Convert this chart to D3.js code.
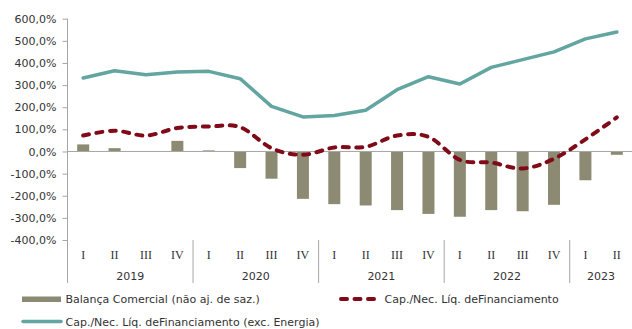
<!DOCTYPE html>
<html>
<head>
<meta charset="utf-8">
<script src="https://cdn.jsdelivr.net/npm/d3@7"></script>
<style>
  html, body { margin: 0; padding: 0; background: #fff; }
  svg { display: block; }
</style>
</head>
<body>
<svg id="chart" width="632" height="329"></svg>
<script>
// Quarterly categories, grouped by year
const quarters = ["I","II","III","IV","I","II","III","IV","I","II","III","IV","I","II","III","IV","I","II"];
const years = ["2019","2019","2019","2019","2020","2020","2020","2020","2021","2021","2021","2021","2022","2022","2022","2022","2023","2023"];
const yearLabels = ["2019","2020","2021","2022","2023"];

// Series (% values)
const balancaComercial = [32, 15, 0, 48, 5, -75, -123, -214, -238, -244, -265, -282, -295, -265, -270, -241, -130, -15];
const capNecFinanciamento = [72, 94, 72, 106, 113, 110, 15, -15, 18, 21, 72, 66, -38, -50, -77, -33, 55, 154];
const capNecExcEnergia = [332, 365, 347, 359, 362, 329, 204, 156, 163, 186, 279, 338, 305, 380, 415, 450, 509, 540];

const yTicks = [-400, -300, -200, -100, 0, 100, 200, 300, 400, 500, 600];

const seriesNames = [
  "Balança Comercial (não aj. de saz.)",
  "Cap./Nec. Líq. deFinanciamento",
  "Cap./Nec. Líq. deFinanciamento (exc. Energia)"
];

const colors = { bar: "#8c8a72", red: "#800a18", teal: "#62a5a1", axis: "#a6a6a6", text: "#333333" };

const svg = d3.select("#chart");
const plotLeft = 67.5, plotRight = 632.5, plotTop = 18.7, plotBottom = 240;

const idx = d3.range(quarters.length);
const x = d3.scaleBand().domain(idx).range([plotLeft, plotRight]).paddingInner(0).paddingOuter(0);
const y = d3.scaleLinear().domain([-400, 600]).range([plotBottom, plotTop]);
const cx = i => x(i) + x.bandwidth() / 2;

// Portuguese-style percentage: comma decimal, plain hyphen for negatives
const fmt = v => (v < 0 ? "-" : "") + d3.format(".1f")(Math.abs(v)).replace(".", ",") + "%";

// Value axis
const yAxis = d3.axisLeft(y).tickValues(yTicks).tickSize(5).tickPadding(6).tickFormat(fmt);
const gy = svg.append("g").attr("transform", `translate(${plotLeft},0)`).call(yAxis);
gy.select(".domain").remove();
gy.selectAll(".tick line").attr("stroke", colors.axis);
gy.selectAll(".tick text")
  .attr("fill", colors.text)
  .style("font-family", "'DejaVu Sans', Verdana, sans-serif")
  .style("font-size", "11px");

// Left axis line running through the category area
svg.append("line")
  .attr("x1", plotLeft).attr("x2", plotLeft)
  .attr("y1", plotTop).attr("y2", 283)
  .attr("stroke", colors.axis).attr("stroke-width", 1);

// Bars
svg.append("g").selectAll("rect").data(balancaComercial).join("rect")
  .attr("x", (d, i) => cx(i) - 6)
  .attr("width", 12)
  .attr("y", d => y(Math.max(0, d)))
  .attr("height", d => Math.abs(y(d) - y(0)))
  .attr("fill", colors.bar);

// Zero line
svg.append("line")
  .attr("x1", plotLeft).attr("x2", plotRight)
  .attr("y1", y(0)).attr("y2", y(0))
  .attr("stroke", colors.axis).attr("stroke-width", 1);

// Lines
const lineStraight = d3.line().x((d, i) => cx(i)).y(d => y(d));
const lineSmooth = d3.line().x((d, i) => cx(i)).y(d => y(d)).curve(d3.curveCatmullRom.alpha(0));

svg.append("path").datum(capNecExcEnergia)
  .attr("d", lineStraight)
  .attr("fill", "none").attr("stroke", colors.teal)
  .attr("stroke-width", 3.5).attr("stroke-linejoin", "round").attr("stroke-linecap", "round");

svg.append("path").datum(capNecFinanciamento)
  .attr("d", lineSmooth)
  .attr("fill", "none").attr("stroke", colors.red)
  .attr("stroke-width", 4).attr("stroke-dasharray", "6,7.5").attr("stroke-linecap", "round");

// Category labels
const serif = "'Liberation Serif', 'Times New Roman', serif";
const sans = "'DejaVu Sans', Verdana, sans-serif";

svg.append("g").selectAll("text").data(quarters).join("text")
  .attr("x", (d, i) => cx(i))
  .attr("y", 259)
  .attr("text-anchor", "middle")
  .attr("fill", colors.text)
  .style("font-family", serif).style("font-size", "12px")
  .text(d => d);

// Year groups
const groups = yearLabels.map(yr => {
  const members = idx.filter(i => years[i] === yr);
  return { yr, start: x(members[0]), end: x(members[members.length - 1]) + x.bandwidth() };
});

svg.append("g").selectAll("text").data(groups).join("text")
  .attr("x", g => (g.start + g.end) / 2)
  .attr("y", 280)
  .attr("text-anchor", "middle")
  .attr("fill", colors.text)
  .style("font-family", sans).style("font-size", "11px")
  .text(g => g.yr);

svg.append("g").selectAll("line").data(groups.slice(1)).join("line")
  .attr("x1", g => g.start).attr("x2", g => g.start)
  .attr("y1", plotBottom).attr("y2", 283)
  .attr("stroke", colors.axis).attr("stroke-width", 1);

// Legend
const legend = svg.append("g").style("font-family", sans).style("font-size", "11px").attr("fill", colors.text);

legend.append("rect").attr("x", 22).attr("y", 296.5).attr("width", 39).attr("height", 5.5).attr("fill", colors.bar);
legend.append("text").attr("x", 65.5).attr("y", 303).text(seriesNames[0]);

legend.append("line").attr("x1", 341).attr("x2", 381).attr("y1", 299).attr("y2", 299)
  .attr("stroke", colors.red).attr("stroke-width", 4).attr("stroke-dasharray", "6,7.5").attr("stroke-linecap", "round");
legend.append("text").attr("x", 384.5).attr("y", 303).text(seriesNames[1]);

legend.append("line").attr("x1", 23).attr("x2", 61).attr("y1", 321.5).attr("y2", 321.5)
  .attr("stroke", colors.teal).attr("stroke-width", 3.5).attr("stroke-linecap", "round");
legend.append("text").attr("x", 65.5).attr("y", 326).text(seriesNames[2]);
</script>
</body>
</html>
